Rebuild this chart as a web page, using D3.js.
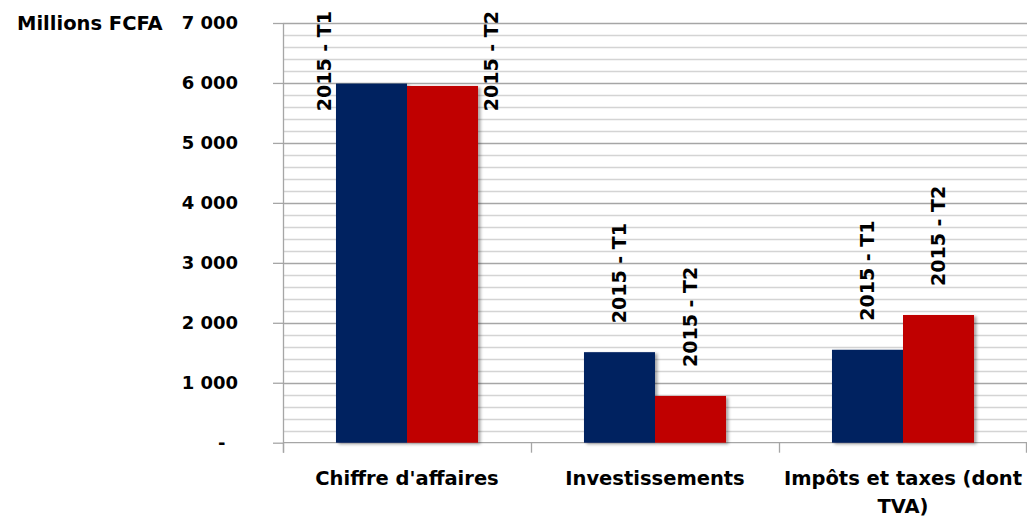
<!DOCTYPE html>
<html><head><meta charset="utf-8">
<script src="https://cdn.jsdelivr.net/npm/d3@7"></script>
<style>
html,body{margin:0;padding:0;background:#fff;}
text{font-family:"DejaVu Sans",sans-serif;font-weight:bold;fill:#000;}
</style></head>
<body><svg id="chart" width="1027" height="524"></svg>
<script>
const categories = ["Chiffre d'affaires", "Investissements", "Impôts et taxes (dont TVA)"];
const seriesNames = ["2015 - T1", "2015 - T2"];
const valuesT1 = [5990, 1510, 1550];
const valuesT2 = [5950, 780, 2130];
const yTicks = [0, 1000, 2000, 3000, 4000, 5000, 6000, 7000];
const yTickLabels = ["-", "1 000", "2 000", "3 000", "4 000", "5 000", "6 000", "7 000"];
const yTitle = "Millions FCFA";
const colors = ["#002060", "#C00000"];

(function () {
const svg = d3.select("#chart");
const pLeft = 283, pRight = 1027, pTop = 23, pBottom = 442.7;

const defs = svg.append("defs");
const f = defs.append("filter").attr("id","sh").attr("x","-10%").attr("y","-10%").attr("width","130%").attr("height","130%");
f.append("feDropShadow").attr("dx",2.5).attr("dy",1.5).attr("stdDeviation",1.6).attr("flood-color","#000").attr("flood-opacity",0.35);

const y = d3.scaleLinear().domain([0, 7000]).range([pBottom, pTop]);
const x0 = d3.scaleBand().domain(categories).range([pLeft, pRight]).padding(0);
const x1 = d3.scaleBand().domain(seriesNames).range([0, x0.bandwidth()]).paddingInner(0).paddingOuter(0.746);

// minor gridlines
const minor = d3.range(200, 7001, 200).filter(v => v % 1000 !== 0);
svg.append("g").selectAll("line").data(minor).join("line")
  .attr("x1", pLeft).attr("x2", pRight)
  .attr("y1", d => Math.round(y(d)) + 0.5).attr("y2", d => Math.round(y(d)) + 0.5)
  .attr("stroke", "#d4d4d4").attr("stroke-width", 1.3);
// major gridlines
svg.append("g").selectAll("line").data(yTicks.slice(1)).join("line")
  .attr("x1", pLeft).attr("x2", pRight)
  .attr("y1", d => Math.round(y(d)) + 0.5).attr("y2", d => Math.round(y(d)) + 0.5)
  .attr("stroke", "#a6a6a6").attr("stroke-width", 1.3);

// y axis
const yAxis = d3.axisLeft(y).tickValues(yTicks).tickSize(10).tickPadding(35)
  .tickFormat((d, i) => yTickLabels[i] === "-" ? "-\u00a0\u00a0" : yTickLabels[i]);
const gy = svg.append("g").attr("transform", `translate(${pLeft},0)`).call(yAxis);
gy.select(".domain").remove();
gy.selectAll(".tick line").attr("stroke", "#a6a6a6").attr("stroke-width", 1.3);
gy.selectAll(".tick text").style("font-size", "18px").attr("fill", "#000");
svg.append("line").attr("x1", pLeft + 0.5).attr("x2", pLeft + 0.5).attr("y1", pTop).attr("y2", pBottom + 10)
  .attr("stroke", "#a6a6a6").attr("stroke-width", 1.3);

// x axis
const xAxis = d3.axisBottom(x0).tickSize(0).tickFormat("");
const gx = svg.append("g").attr("transform", `translate(0,${pBottom})`).call(xAxis);
gx.select(".domain").remove();
svg.append("line").attr("x1", pLeft).attr("x2", pRight).attr("y1", pBottom).attr("y2", pBottom)
  .attr("stroke", "#a6a6a6").attr("stroke-width", 1.3);
const bounds = categories.map(c => x0(c)).concat([x0(categories[categories.length-1]) + x0.bandwidth()]);
svg.append("g").selectAll("line").data(bounds).join("line")
  .attr("x1", d => Math.min(d, pRight - 1) + 0.5).attr("x2", d => Math.min(d, pRight - 1) + 0.5)
  .attr("y1", pBottom).attr("y2", pBottom + 10)
  .attr("stroke", "#a6a6a6").attr("stroke-width", 1.3);

// category labels with wrapping
const catG = svg.append("g");
categories.forEach(c => {
  const cx = x0(c) + x0.bandwidth() / 2;
  const t = catG.append("text").attr("text-anchor", "middle").style("font-size", "19.5px")
    .attr("x", cx).attr("y", 485);
  const words = c.split(" ");
  let line = [];
  let ts = t.append("tspan").attr("x", cx).attr("dy", 0);
  words.forEach(w => {
    line.push(w);
    ts.text(line.join(" "));
    if (ts.node().getComputedTextLength() > x0.bandwidth() - 4 && line.length > 1) {
      line.pop(); ts.text(line.join(" "));
      line = [w];
      ts = t.append("tspan").attr("x", cx).attr("dy", 28).text(w);
    }
  });
});

// bars
const data = [];
categories.forEach((c, i) => {
  data.push({cat: c, s: seriesNames[0], v: valuesT1[i], k: 0});
  data.push({cat: c, s: seriesNames[1], v: valuesT2[i], k: 1});
});
svg.append("g").selectAll("rect").data(data).join("rect")
  .attr("x", d => x0(d.cat) + x1(d.s))
  .attr("y", d => y(d.v))
  .attr("width", x1.bandwidth())
  .attr("height", d => y(0) - y(d.v))
  .attr("fill", d => colors[d.k])
  .attr("filter", "url(#sh)");

// data labels (series name, rotated)
const gap = 29, minTop = 11, fs = 19;
const lg = svg.append("g");
data.forEach(d => {
  const t = lg.append("text").style("font-size", fs + "px").attr("text-anchor", "start").text(d.s);
  const len = t.node().getComputedTextLength();
  const bx = x0(d.cat) + x1(d.s);
  let cx = bx + x1.bandwidth() / 2;
  let bottomY = y(d.v) - gap;
  if (bottomY - len < minTop) {
    bottomY = minTop + len;
    cx = d.k === 0 ? bx - 12 : bx + x1.bandwidth() + 13;
  }
  const bxl = cx + fs * 0.36;
  t.attr("transform", `translate(${bxl},${bottomY}) rotate(-90)`);
});

// y title
svg.append("text").attr("x", 17).attr("y", 30).style("font-size", "19.5px").text(yTitle);
})();
</script></body></html>
